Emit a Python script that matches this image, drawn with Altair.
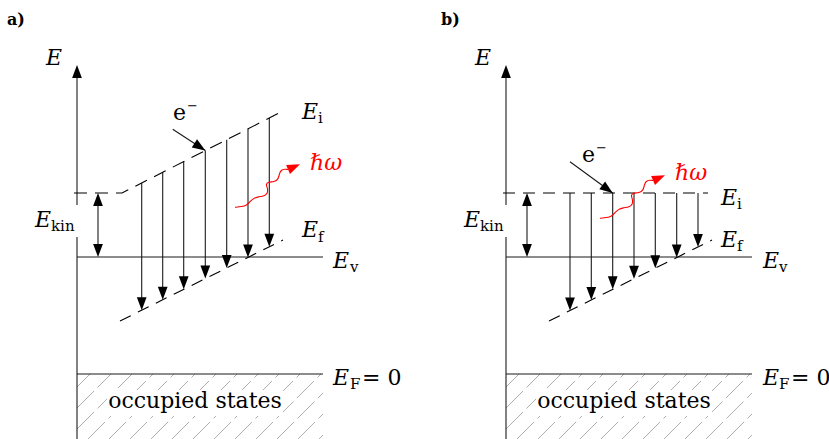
import math
import altair as alt
import pandas as pd

W, H = 829, 439
FONT = "DejaVu Serif"

# ---- geometry of the two energy diagrams (pixel units, y grows downward) ----
axis_x = [77, 506]            # energy axis of panel a) and b)
axis_tip_y = 65
axis_break = (205, 237)       # axis is interrupted behind the E_kin label
level_right = [323, 752]      # right end of E_v and E_F lines
y_vac = 257                   # E_v
y_fermi = 374                 # E_F = 0
y_init = 193                  # E_i (flat part)
ekin_x = [98, 527]

# transition columns
trans_x_a = [141.7, 162.7, 183.7, 205.3, 226.7, 248.0, 269.3]
trans_x_b = [570.0, 591.3, 612.7, 634.0, 655.3, 676.7, 698.0]

# E_i: panel a) flat then rising, panel b) flat
ei_a_x = [74, 122, 283]
ei_a_y = [193, 193, 111]
ei_b_x = [503, 708]

# E_f (dashed, rising) : x0, y0, x1, y1
ef_a = [120, 321, 283, 240]
ef_b = [549, 321, 712, 240]

# electron arrows: start -> tip
elec_a = [172.7, 129.3, 205.3, 150.5]
elec_b = [570.0, 161.7, 612.7, 193.0]

# emitted photon (wavy line) of panel a); panel b) is the same squiggle shifted
wave_x = [235.0, 241.7, 246.7, 250.0, 253.3, 258.3, 264.3, 267.7, 267.7,
          265.7, 268.3, 274.3, 278.3, 279.3, 281.0, 285.0, 288.0]
wave_y = [207.3, 206.7, 205.3, 201.7, 198.3, 196.7, 196.0, 193.3, 188.3,
          184.3, 181.7, 182.0, 179.3, 174.0, 170.0, 169.0, 169.5]
wave_tip = (300.0, 164.3)
wave_shift_b = (365, 11)

# hatched "occupied states" block
hatch_top, hatch_bottom = y_fermi, H
hatch_spacing = 21


def interp(x, xs, ys):
    for i in range(len(xs) - 1):
        if xs[i] <= x <= xs[i + 1]:
            t = (x - xs[i]) / (xs[i + 1] - xs[i])
            return ys[i] + t * (ys[i + 1] - ys[i])
    return ys[-1]


def heading(x0, y0, x1, y1):
    # clockwise angle from "up" of the direction x0,y0 -> x1,y1
    return math.degrees(math.atan2(x1 - x0, -(y1 - y0))) % 360


solid, dashed, heads, hatch = [], [], [], []

for p in range(2):
    ax = axis_x[p]
    # energy axis with arrow
    solid.append(dict(x=ax, y=axis_tip_y + 8, x2=ax, y2=axis_break[0]))
    solid.append(dict(x=ax, y=axis_break[1], x2=ax, y2=H))
    heads.append(dict(x=ax, y=axis_tip_y, angle=0, color="black"))
    # E_v and E_F levels
    solid.append(dict(x=ax, y=y_vac, x2=level_right[p], y2=y_vac))
    solid.append(dict(x=ax, y=y_fermi, x2=level_right[p], y2=y_fermi))
    # E_kin double arrow
    ex = ekin_x[p]
    solid.append(dict(x=ex, y=y_init + 6, x2=ex, y2=y_vac - 6))
    heads.append(dict(x=ex, y=y_init, angle=0, color="black"))
    heads.append(dict(x=ex, y=y_vac, angle=180, color="black"))
    # hatch lines "/" clipped to the block
    x0, x1 = ax, level_right[p]
    c = x0 + hatch_top - 8
    while c - hatch_bottom < x1:
        xa = max(x0, c - hatch_bottom)
        xb = min(x1, c - hatch_top)
        if xb > xa:
            hatch.append(dict(x=xa, y=c - xa, x2=xb, y2=c - xb))
        c += hatch_spacing

# vertical transitions
for p, xs in enumerate([trans_x_a, trans_x_b]):
    ef = [ef_a, ef_b][p]
    for x in xs:
        top = interp(x, ei_a_x, ei_a_y) if p == 0 else y_init
        tip = interp(x, [ef[0], ef[2]], [ef[1], ef[3]])
        solid.append(dict(x=x, y=top, x2=x, y2=tip - 6))
        heads.append(dict(x=x, y=tip, angle=180, color="black"))

# electron arrows
for e in [elec_a, elec_b]:
    solid.append(dict(x=e[0], y=e[1], x2=e[2], y2=e[3]))
    heads.append(dict(x=e[2], y=e[3], angle=heading(*e), color="black"))

# dashed levels
dashed.append(dict(x=ef_a[0], y=ef_a[1], x2=ef_a[2], y2=ef_a[3]))
dashed.append(dict(x=ef_b[0], y=ef_b[1], x2=ef_b[2], y2=ef_b[3]))
dashed.append(dict(x=ei_b_x[0], y=y_init, x2=ei_b_x[1], y2=y_init))
ei_poly = pd.DataFrame(dict(x=ei_a_x, y=ei_a_y, order=range(len(ei_a_x))))

# photons
wave_rows = []
for p, (sx, sy) in enumerate([(0, 0), wave_shift_b]):
    for i, (wx, wy) in enumerate(zip(wave_x, wave_y)):
        wave_rows.append(dict(x=wx + sx, y=wy + sy, order=i, panel=p))
    tx, ty = wave_tip[0] + sx, wave_tip[1] + sy
    heads.append(dict(x=tx, y=ty,
                      angle=heading(wave_x[-1] + sx, wave_y[-1] + sy, tx, ty),
                      color="red"))
wave_df = pd.DataFrame(wave_rows)

# ---- texts ----
italic_E = pd.DataFrame(dict(
    x=[46, 35, 302, 302, 333, 333, 475, 464, 721, 721, 763, 763],
    y=[65, 227, 119, 237, 268, 385, 65, 227, 205, 247, 268, 385],
    t=["E"] * 12))
subs = pd.DataFrame(dict(
    t=["kin", "i", "f", "v", "F", "kin", "i", "f", "v", "F"],
    x=[51, 318, 318, 350, 350, 480, 737, 737, 779, 779],
    y=[231, 123, 242, 272, 389, 231, 209, 251, 272, 389]))
upright = pd.DataFrame(dict(
    t=["= 0", "= 0", "e", "e"],
    x=[362, 791, 173, 582],
    y=[385, 385, 120, 162]))
minus = pd.DataFrame(dict(t=["\u2212", "\u2212"], x=[187, 596], y=[110, 152]))
panel_tags = pd.DataFrame(dict(t=["a)", "b)"], x=[7, 441], y=[25, 25]))
photon_lbl = pd.DataFrame(dict(t=["\u210f\u03c9", "\u210f\u03c9"], x=[310, 675], y=[170, 180]))
occupied = pd.DataFrame(dict(t=["occupied states"] * 2, x=[195, 624], y=[408, 408]))
occ_box = pd.DataFrame(dict(x=[107, 536], x2=[283, 712], y=[390, 390], y2=[416, 416]))

X = lambda f="x": alt.X(f + ":Q", scale=None, axis=None)
Y = lambda f="y": alt.Y(f + ":Q", scale=None, axis=None)


def rules(df, **kw):
    return alt.Chart(pd.DataFrame(df)).mark_rule(**kw).encode(
        x=X(), y=Y(), x2="x2:Q", y2="y2:Q")


def texts(df, **kw):
    return alt.Chart(df).mark_text(font=FONT, align=kw.pop("align", "left"),
                                   baseline="alphabetic", **kw).encode(
        x=X(), y=Y(), text="t:N")


ARROW = "M0,0 L-0.75,2 L0.75,2 Z"

layers = [
    rules(hatch, color="#9a9a9a", strokeWidth=0.8, strokeDash=[24, 5]),
    alt.Chart(occ_box).mark_rect(color="white").encode(
        x=X(), x2="x2:Q", y=Y(), y2="y2:Q"),
    texts(occupied, fontSize=22, align="center", color="black"),
    rules(solid, color="#1a1a1a", strokeWidth=1.1),
    rules(dashed, color="black", strokeWidth=1.1, strokeDash=[12, 8]),
    alt.Chart(ei_poly).mark_line(color="black", strokeWidth=1.1,
                                 strokeDash=[13, 8]).encode(
        x=X(), y=Y(), order="order:Q"),
    alt.Chart(wave_df).mark_line(color="red", strokeWidth=1.1,
                                 interpolate="basis").encode(
        x=X(), y=Y(), order="order:Q", detail="panel:N"),
    alt.Chart(pd.DataFrame(heads)).mark_point(
        shape=ARROW, filled=True, size=169, opacity=1, strokeWidth=0).encode(
        x=X(), y=Y(), angle=alt.Angle("angle:Q", scale=None),
        color=alt.Color("color:N", scale=None)),
    texts(italic_E, fontSize=22, fontStyle="italic", color="black"),
    texts(subs, fontSize=15, color="black"),
    texts(upright, fontSize=22, color="black"),
    texts(minus, fontSize=13, color="black"),
    texts(panel_tags, fontSize=16, fontWeight="bold", color="black"),
    texts(photon_lbl, fontSize=22, fontStyle="italic", color="red"),
]

chart = alt.layer(*layers).properties(
    width=W, height=H, padding=0, autosize=alt.AutoSizeParams(type="none"),
    background="white",
).configure_view(stroke=None)

chart.save("out.html", embed_options={"renderer": "svg", "actions": False})
